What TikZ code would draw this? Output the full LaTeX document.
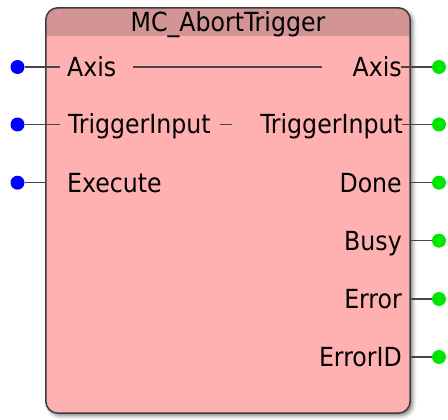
\documentclass[tikz,border=0pt]{standalone}
\usepackage{fontspec}
\setmainfont{DejaVu Sans Condensed}
\usetikzlibrary{shadows.blur}

\definecolor{fbbody}{RGB}{255,176,176}
\definecolor{fbtitle}{RGB}{210,148,148}
\definecolor{fbedge}{RGB}{60,60,60}
\definecolor{wirecol}{RGB}{70,70,70}
\definecolor{pinin}{RGB}{0,0,255}
\definecolor{pinout}{RGB}{0,230,0}

\begin{document}
\begin{tikzpicture}[x=1pt,y=-1pt,
  fblock/.style={rectangle, rounded corners=12pt, minimum width=364pt,
    minimum height=405pt, inner sep=0pt},
  lbl/.style={font=\fontsize{26.3}{31}\selectfont, inner sep=0pt, text=black},
  lblL/.style={lbl, anchor=base west},
  lblR/.style={lbl, anchor=base east},
  pinL/.style={circle, fill=pinin, inner sep=0pt, minimum size=14pt},
  pinR/.style={circle, fill=pinout, inner sep=0pt, minimum size=14pt},
  wire/.style={draw=wirecol, line width=1.1pt}]
\useasboundingbox (0,0) rectangle (448,420);

% function block body with shadow
\node[fblock, fill=fbbody, blur shadow={shadow xshift=2.5pt, shadow yshift=-2.5pt,
  shadow blur radius=4pt, shadow opacity=55}] (fb) at (228,210.5) {};
% title band
\begin{scope}
  \clip[rounded corners=12pt] (fb.north west) rectangle (fb.south east);
  \fill[fbtitle] (46,7) rectangle (410,36);
\end{scope}
\draw[fbedge, line width=1.5pt, rounded corners=12pt] (fb.north west) rectangle (fb.south east);

\node[lbl, anchor=base] (title) at (228,31.5) {MC\_AbortTrigger};

% inputs
\node[lblL] (inAxis) at (67,76.5) {Axis};
\node[lblL] (inTrig) at (68,134) {TriggerInput};
\node[lblL] (inExec) at (67,192.2) {Execute};

% outputs
\node[lblR] (outAxis) at (402,76.5) {Axis};
\node[lblR] (outTrig) at (403,134) {TriggerInput};
\node[lblR] (outDone) at (402,192.2) {Done};
\node[lblR] (outBusy) at (402,250.2) {Busy};
\node[lblR] (outErr) at (402,308.5) {Error};
\node[lblR] (outErrID) at (402,366.5) {ErrorID};

% pins
\node[pinL] (pAxisIn) at (17.5,67) {};
\node[pinL] (pTrigIn) at (17.5,124.5) {};
\node[pinL] (pExecIn) at (17.5,182.7) {};
\node[pinR] (pAxisOut) at (439,67) {};
\node[pinR] (pTrigOut) at (439,124.5) {};
\node[pinR] (pDoneOut) at (439,182.7) {};
\node[pinR] (pBusyOut) at (439,240.7) {};
\node[pinR] (pErrOut) at (439,299) {};
\node[pinR] (pErrIDOut) at (439,357) {};

% wire ends
\coordinate (eAxisIn) at (60,67);
\coordinate (eTrigIn) at (60,124.5);
\coordinate (eExecIn) at (46,182.7);
\coordinate (eAxisOut) at (401,67);
\coordinate (eTrigOut) at (402,124.5);
\coordinate (eDoneOut) at (410,182.7);
\coordinate (eBusyOut) at (410,240.7);
\coordinate (eErrOut) at (410,299);
\coordinate (eErrIDOut) at (410,357);
\coordinate (thruA1) at (133,67);
\coordinate (thruA2) at (322,67);
\coordinate (thruT1) at (220,124.5);
\coordinate (thruT2) at (232,124.5);

\draw[wire] (pAxisIn) -- (eAxisIn);
\draw[wire] (pTrigIn) -- (eTrigIn);
\draw[wire] (pExecIn) -- (eExecIn);
\draw[wire] (pAxisOut) -- (eAxisOut);
\draw[wire] (pTrigOut) -- (eTrigOut);
\draw[wire] (pDoneOut) -- (eDoneOut);
\draw[wire] (pBusyOut) -- (eBusyOut);
\draw[wire] (pErrOut) -- (eErrOut);
\draw[wire] (pErrIDOut) -- (eErrIDOut);
\draw[wire] (thruA1) -- (thruA2);
\draw[wire] (thruT1) -- (thruT2);
\end{tikzpicture}
\end{document}
